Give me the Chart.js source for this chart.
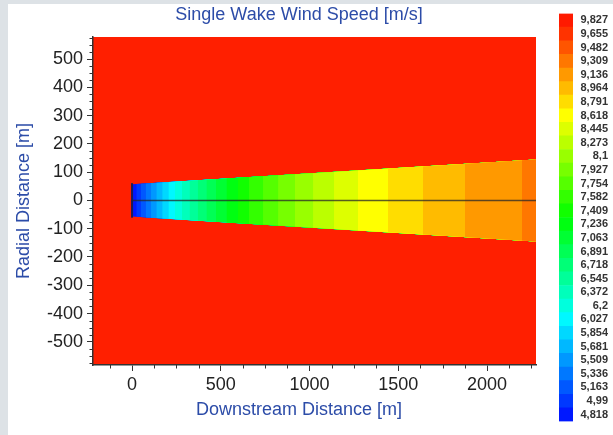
<!DOCTYPE html>
<html>
<head>
<meta charset="utf-8">
<script src="https://cdn.jsdelivr.net/npm/chart.js@4.4.1/dist/chart.umd.min.js"></script>
<style>
  html, body { margin: 0; padding: 0; }
  body { width: 613px; height: 435px; background: #dde2e6; position: relative; overflow: hidden; }
  #panel { position: absolute; left: 8px; top: 4px; right: 0; bottom: 0; background: #fff; }
  #wake { position: absolute; left: 0; top: 0; }
  #bar  { position: absolute; left: 540px; top: 0; }
</style>
</head>
<body>
<div id="panel"></div>
<canvas id="wake" width="598" height="435"></canvas>
<canvas id="bar" width="73" height="435"></canvas>
<script>
// Colour levels (bottom to top of the legend), m/s
const levelLabels = ['4,818', '4,99', '5,163', '5,336', '5,509', '5,681', '5,854', '6,027', '6,2', '6,372',
  '6,545', '6,718', '6,891', '7,063', '7,236', '7,409', '7,582', '7,754', '7,927', '8,1',
  '8,273', '8,445', '8,618', '8,791', '8,964', '9,136', '9,309', '9,482', '9,655', '9,827'];
const levelColors = ['#0018ff', '#0038ff', '#0058ff', '#0078ff', '#0098ff', '#00b8ff', '#00d8ff', '#00f8ff', '#00ffdd', '#00ffbb',
  '#00ff99', '#00ff77', '#00ff55', '#00ff33', '#00ff11', '#11ff00', '#33ff00', '#55ff00', '#77ff00', '#99ff00',
  '#bbff00', '#ddff00', '#ffff00', '#ffdd00', '#ffbb00', '#ff9900', '#ff7700', '#ff5500', '#ff3300', '#ff1a00'];

// Wake bands: downstream start of each colour band [m] and wake half width there [m]
const bandStartX = [0, 24, 50, 77, 107, 137, 170, 205, 242, 281, 324, 370, 419, 473, 532,
  597, 659, 738, 823, 918, 1020, 1138, 1273, 1442, 1639, 1876, 2197];
const bandHalfWidth = [57, 57.9, 58.9, 60.0, 61.1, 62.3, 63.6, 64.9, 66.4, 67.9, 69.5, 71.3, 73.2, 75.3, 77.6,
  80.1, 82.5, 85.5, 88.8, 92.5, 96.4, 101.0, 106.2, 112.7, 120.4, 129.5, 141.9];
const wakeEndX = 2276;
const wakeEndHalfWidth = 145;
const rotorHalfHeight = 61;

// Axes
const xTicks = [0, 500, 1000, 1500, 2000];
const yTicks = [-500, -400, -300, -200, -100, 0, 100, 200, 300, 400, 500];
const xRange = [-220, 2276];
const yRange = [-582, 578];

const FONT = '"Liberation Sans", Arial, Helvetica, sans-serif';
const BLUE = '#2c4ca8';
const INK = '#222';
const PLOT_RED = '#ff1f00';

// Red field behind everything in the plot area
const plotBackground = {
  id: 'plotBackground',
  beforeDraw(chart) {
    const { ctx, chartArea: a } = chart;
    ctx.save();
    ctx.fillStyle = PLOT_RED;
    ctx.fillRect(a.left, a.top, a.right - a.left, a.bottom - a.top);
    ctx.restore();
  }
};

// Short minor ticks (Chart.js has none of its own)
const minorTicks = {
  id: 'minorTicks',
  afterDraw(chart) {
    const { ctx, chartArea: a, scales: { x, y } } = chart;
    ctx.save();
    ctx.strokeStyle = '#333';
    ctx.lineWidth = 1;
    ctx.beginPath();
    for (let v = -125; v < xRange[1]; v += 125) {
      if (v % 500 === 0) continue;
      const px = Math.round(x.getPixelForValue(v)) + 0.5;
      ctx.moveTo(px, a.bottom);
      ctx.lineTo(px, a.bottom + 3.5);
    }
    for (let v = -575; v < yRange[1]; v += 25) {
      if (v % 100 === 0) continue;
      const py = Math.round(y.getPixelForValue(v)) + 0.5;
      ctx.moveTo(a.left, py);
      ctx.lineTo(a.left - 3.5, py);
    }
    ctx.stroke();
    ctx.restore();
  }
};

// Each band runs from its start to the wake end; later bands sit on top
const datasets = [];
bandStartX.forEach((x0, i) => {
  const hw = bandHalfWidth[i];
  const order = bandStartX.length - i;
  datasets.push({
    data: [{ x: x0, y: hw }, { x: wakeEndX, y: wakeEndHalfWidth }],
    fill: '+1',
    backgroundColor: levelColors[i],
    borderColor: 'rgba(0,0,0,0)',
    borderWidth: 0,
    pointRadius: 0,
    order
  });
  datasets.push({
    data: [{ x: x0, y: -hw }, { x: wakeEndX, y: -wakeEndHalfWidth }],
    fill: false,
    borderColor: 'rgba(0,0,0,0)',
    borderWidth: 0,
    pointRadius: 0,
    order
  });
});

// Centre line and rotor disc
datasets.push({
  data: [{ x: 0, y: 0 }, { x: wakeEndX, y: 0 }],
  borderColor: 'rgba(40,40,40,0.75)',
  borderWidth: 1.5,
  pointRadius: 0,
  fill: false,
  order: -10
});
datasets.push({
  data: [{ x: 0, y: -rotorHalfHeight }, { x: 0, y: rotorHalfHeight }],
  borderColor: '#1c1c55',
  borderWidth: 2,
  pointRadius: 0,
  fill: false,
  order: -10
});

const tickFont = { family: FONT, size: 18 };
const titleFont = { family: FONT, size: 18, weight: 'normal' };

new Chart(document.getElementById('wake'), {
  type: 'line',
  data: { datasets },
  plugins: [plotBackground, minorTicks],
  options: {
    responsive: false,
    animation: false,
    layout: { padding: { left: 0, right: 0, top: 0, bottom: 14.2 } },
    elements: { line: { tension: 0 } },
    plugins: {
      legend: { display: false },
      tooltip: { enabled: false },
      title: {
        display: true,
        text: 'Single Wake Wind Speed [m/s]',
        color: BLUE,
        font: titleFont,
        padding: { top: 4, bottom: 11.4 }
      },
      subtitle: {
        display: true,
        position: 'bottom',
        text: 'Downstream Distance [m]',
        color: BLUE,
        font: titleFont,
        padding: { top: 4.2, bottom: 0 }
      }
    },
    scales: {
      x: {
        type: 'linear',
        min: xRange[0],
        max: xRange[1],
        afterBuildTicks: s => { s.ticks = xTicks.map(v => ({ value: v })); },
        afterFit: s => { s.height = 30; },
        ticks: { callback: v => String(v), font: tickFont, color: INK, padding: 3, maxRotation: 0 },
        grid: { drawOnChartArea: false, tickLength: 6, color: '#333' },
        border: { color: '#333', width: 1.5 }
      },
      y: {
        type: 'linear',
        min: yRange[0],
        max: yRange[1],
        afterBuildTicks: s => { s.ticks = yTicks.map(v => ({ value: v })); },
        afterFit: s => { s.width = 93; },
        ticks: { callback: v => String(v), font: tickFont, color: INK, padding: 4 },
        grid: { drawOnChartArea: false, tickLength: 6, color: '#333' },
        border: { color: '#333', width: 1.5 },
        title: {
          display: true,
          text: 'Radial Distance [m]',
          color: BLUE,
          font: titleFont,
          padding: { top: 13.2, bottom: 0 }
        }
      },
      // empty right-hand box so the titles centre on the whole panel
      spacer: {
        type: 'linear',
        position: 'right',
        afterFit: s => { s.width = 62; },
        ticks: { display: false },
        grid: { display: false, drawTicks: false },
        border: { display: false }
      }
    }
  }
});

// Colour legend: one stacked bar, one segment per level
new Chart(document.getElementById('bar'), {
  type: 'bar',
  data: {
    labels: [''],
    datasets: levelColors.map(c => ({
      data: [1],
      backgroundColor: c,
      borderWidth: 0,
      barPercentage: 1,
      categoryPercentage: 1
    }))
  },
  options: {
    responsive: false,
    animation: false,
    layout: { padding: { left: 19, right: 5, top: 8, bottom: 2 } },
    plugins: { legend: { display: false }, tooltip: { enabled: false } },
    scales: {
      x: { display: false, stacked: true },
      y: {
        stacked: true,
        position: 'right',
        min: 0,
        max: levelLabels.length,
        afterBuildTicks: s => { s.ticks = levelLabels.map((_, i) => ({ value: i + 0.5 })); },
        afterFit: s => { s.width = 35; },
        ticks: {
          autoSkip: false,
          crossAlign: 'far',
          padding: 7,
          color: '#333',
          font: { family: FONT, size: 11, weight: 'bold' },
          callback: (v, i) => levelLabels[i]
        },
        grid: { display: false, drawTicks: false },
        border: { display: false }
      }
    }
  }
});
</script>
</body>
</html>
